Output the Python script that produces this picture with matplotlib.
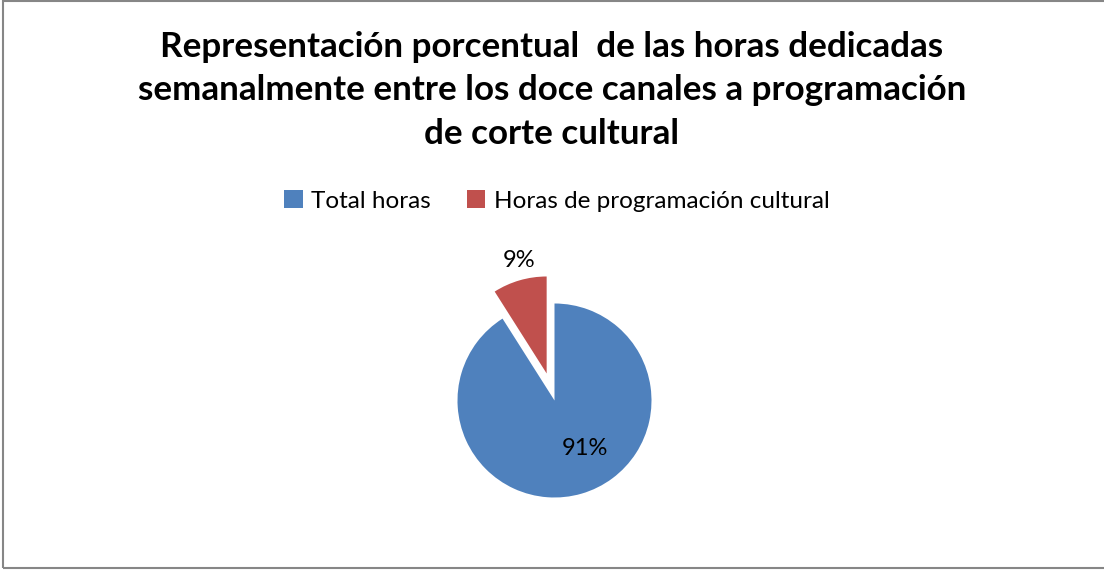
import matplotlib
matplotlib.use("Agg")
import matplotlib.pyplot as plt
from matplotlib.patches import Rectangle
import numpy as np

categories = ["Total horas", "Horas de programación cultural"]
values = [91, 9]
colors = ["#4F81BD", "#C0504D"]
title = "Representación porcentual  de las horas dedicadas\nsemanalmente entre los doce canales a programación\nde corte cultural"

W, H = 1104, 570
fig = plt.figure(figsize=(W/100, H/100), dpi=100)
fig.patch.set_facecolor("white")

# outer chart border
fig.patches.append(Rectangle((2.5/W, 1 - 567.5/H), 1.1, (567.5 - 0.5)/H,
                             transform=fig.transFigure, fill=False,
                             edgecolor="#868686", linewidth=1.5))

FONT = ["Lato", "DejaVu Sans"]

fig.text(0.5, 1 - 90.5/H, title, ha="center", va="center", fontsize=25.2,
         fontweight="bold", family=FONT, linespacing=1.45)

# pie axes: center (554.5, 400.5), radius 97 px
cx, cy, r = 554.5, 400.5, 97
span = 1.6
ax = fig.add_axes([(cx - r*span)/W, 1 - (cy + r*span)/H, 2*r*span/W, 2*r*span/H])
wedges, texts, autotexts = ax.pie(values, colors=colors, startangle=90, counterclock=False,
                                  explode=[0, 0.29], autopct="%d%%", radius=1,
                                  wedgeprops=dict(linewidth=0),
                                  textprops=dict(fontsize=17, family=FONT))
ax.set_xlim(-span, span)
ax.set_ylim(-span, span)
ax.set_aspect("equal")
ax.axis("off")
autotexts[0].set_position((0.31, -0.49))
autotexts[1].set_position((-0.366, 1.44))

# legend
ly = 1 - 201/H
handles = [Rectangle((0, 0), 1, 1, facecolor=c, edgecolor="none") for c in colors]
fig.legend(handles, categories, loc="center", bbox_to_anchor=(557/W, ly), ncol=2,
           frameon=False, prop=dict(family=FONT, size=17.5), handlelength=0.75,
           handleheight=0.75, handletextpad=0.35, columnspacing=1.5)

fig.savefig("out.png", dpi=100, facecolor="white")
